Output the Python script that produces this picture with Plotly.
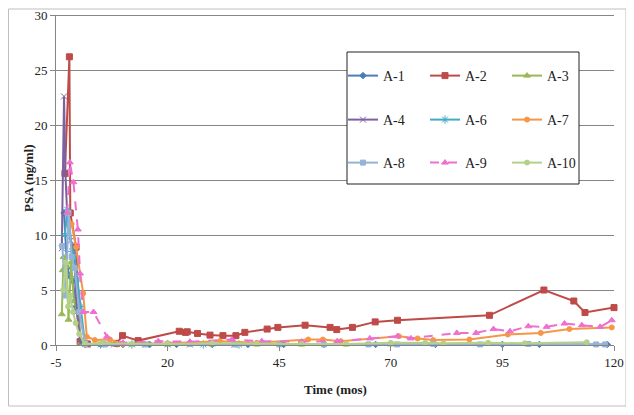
import plotly.graph_objects as go

# ---- data (time in months, PSA in ng/ml) ----
a1_x = [-3.2, -2.5, -1.8, -1.2, -0.5, 0.5, 1.5, 5, 10, 16, 22, 30, 38, 46, 55, 66.6, 80, 95, 103.3, 118.5]
a1_y = [12.0, 7.0, 6.2, 5.8, 3.5, 0.5, 0.1, 0.05, 0.05, 0.05, 0.05, 0.05, 0.05, 0.05, 0.05, 0.05, 0.05, 0.05, 0.05, 0.05]

a2_x = [-3.0, -2.0, -1.8, -0.5, 0.4, 2.0, 8.6, 9.9, 13.4, 22.6, 24.0, 24.4, 26.7, 29.5, 32.4, 35.3, 37.3,
        42.3, 44.7, 50.8, 56.4, 57.9, 61.4, 66.5, 71.5, 92.1, 104.3, 111.0, 113.5, 120.0]
a2_y = [15.6, 26.2, 12.0, 8.9, 0.3, 0.1, 0.15, 0.85, 0.4, 1.25, 1.15, 1.2, 1.05, 0.9, 0.85, 0.85, 1.15,
        1.45, 1.6, 1.8, 1.6, 1.4, 1.6, 2.1, 2.25, 2.7, 5.0, 4.0, 2.95, 3.4]

a3_x = [-3.7, -3.5, -3.3, -2.6, -2.2, -1.6, -1.0, -0.2, 0.6, 2, 6, 12, 20, 30, 40, 50, 60, 70]
a3_y = [2.8, 6.8, 8.0, 7.2, 2.3, 7.5, 4.0, 3.0, 0.2, 0.1, 0.05, 0.05, 0.05, 0.05, 0.05, 0.05, 0.05, 0.05]

a4_x = [-3.7, -3.2, -2.9, -2.4, -1.7, -1.0, -0.3, 0.5, 2, 8, 15, 25, 35]
a4_y = [8.8, 22.6, 15.7, 11.0, 9.5, 8.5, 3.0, 0.2, 0.05, 0.05, 0.05, 0.05, 0.05]

a6_x = [-3.0, -2.5, -2.0, -1.4, -0.8, -0.2, 0.6, 1.5, 5, 12, 20, 28, 36]
a6_y = [10.0, 12.3, 11.0, 8.5, 8.0, 6.0, 3.5, 0.1, 0.05, 0.05, 0.05, 0.05, 0.05]

a7_x = [-1.5, -0.5, 1.1, 1.9, 3.7, 7.1, 10, 20, 31.7, 40, 51.5, 54.8, 58.8, 71.8, 76, 79.5, 87.6, 96.2, 103.6, 110, 119.5]
a7_y = [11.0, 8.9, 4.7, 0.75, 0.45, 0.5, 0.1, 0.15, 0.35, 0.2, 0.5, 0.5, 0.35, 0.8, 0.6, 0.45, 0.5, 0.95, 1.1, 1.45, 1.6]

a8_x = [-3.6, -2.8, -2.2, -1.5, -0.8, 0.2, 1.5, 6, 15, 25, 35, 45, 55, 65, 71.4, 79.5, 90, 100.8, 116, 118]
a8_y = [9.0, 4.5, 12.0, 8.0, 7.0, 3.0, 0.1, 0.05, 0.05, 0.1, 0.05, 0.05, 0.05, 0.05, 0.05, 0.1, 0.05, 0.1, 0.05, 0.05]

a9_x = [-2.5, -1.9, -1.1, -0.1, 0.4, 1.1, 3.4, 6.4, 10, 17.9, 25, 34.4, 41.1, 50, 58, 65.3, 71.5, 74.5,
        84.8, 89.1, 93, 96.7, 100.8, 104.9, 108.9, 112.8, 116.9, 119.5]
a9_y = [12.0, 16.6, 14.8, 10.5, 6.5, 3.0, 3.0, 0.75, 0.2, 0.35, 0.3, 0.5, 0.35, 0.3, 0.35, 0.6, 0.8, 0.6,
        1.1, 1.1, 1.45, 1.25, 1.7, 1.65, 1.95, 1.8, 1.65, 2.25]

a10_x = [-3.4, -2.8, -2.3, -1.8, -1.2, -0.6, 0.2, 1.5, 5, 12, 20, 30, 40, 50, 60, 70, 77.7, 81.8, 91.8, 100, 113.9]
a10_y = [5.0, 7.5, 3.5, 4.5, 3.0, 2.0, 1.0, 0.1, 0.15, 0.1, 0.1, 0.15, 0.1, 0.1, 0.1, 0.2, 0.2, 0.15, 0.2, 0.15, 0.25]

x_ticks = [-5, 20, 45, 70, 95, 120]
y_ticks = [0, 5, 10, 15, 20, 25, 30]

series = [
    ("A-1", a1_x, a1_y, "#4A7EBB", "diamond", 5, "solid", "legend"),
    ("A-2", a2_x, a2_y, "#BE4B48", "square", 6, "solid", "legend"),
    ("A-3", a3_x, a3_y, "#98B954", "triangle-up", 6, "solid", "legend"),
    ("A-4", a4_x, a4_y, "#7D60A0", "x-thin-open", 6, "solid", "legend2"),
    ("A-6", a6_x, a6_y, "#46AAC5", "asterisk-open", 7, "solid", "legend2"),
    ("A-7", a7_x, a7_y, "#F79646", "circle", 5, "solid", "legend2"),
    ("A-8", a8_x, a8_y, "#95B3D7", "square", 5, "solid", "legend3"),
    ("A-9", a9_x, a9_y, "#EE6FD0", "triangle-up", 6, "dash", "legend3"),
    ("A-10", a10_x, a10_y, "#B3D18A", "circle", 5, "solid", "legend3"),
]

FONT = "Liberation Serif, Times New Roman, serif"

fig = go.Figure()
for name, xs, ys, col, sym, sz, dash, lg in series:
    fig.add_trace(go.Scatter(
        x=xs, y=ys, name=name, mode="lines+markers", legend=lg,
        line=dict(color=col, width=2, dash=dash),
        marker=dict(color=col, symbol=sym, size=sz, line=dict(color=col, width=1)),
        cliponaxis=False,
    ))

# page has an 8px body margin; lay out in page pixels and convert
OFF = 8
W, H = 634 - OFF, 415 - OFF
PL, PR, PT, PB = 56, 614, 15, 345   # plot area in page pixels
L, R, T, B = PL - OFF, W - (PR - OFF), PT - OFF, H - (PB - OFF)
pw, ph = W - L - R, H - T - B

def px(xp):
    return (xp - OFF - L) / pw

def py(yp):
    return (H - B - (yp - OFF)) / ph

legend_common = dict(
    orientation="h", entrywidth=37, entrywidthmode="pixels",
    font=dict(family=FONT, size=14, color="#222"),
    bgcolor="rgba(0,0,0,0)", borderwidth=0,
    xanchor="left", yanchor="middle", itemwidth=30,
    traceorder="normal",
)

fig.update_layout(
    width=W, height=H,
    margin=dict(l=L, r=R, t=T, b=B, autoexpand=False),
    paper_bgcolor="white", plot_bgcolor="white",
    font=dict(family=FONT, size=13, color="#222"),
    showlegend=True,
    legend=dict(x=px(343), y=py(76), **legend_common),
    legend2=dict(x=px(343), y=py(120), **legend_common),
    legend3=dict(x=px(343), y=py(163), **legend_common),
    xaxis=dict(
        range=[-5, 120.001], tickvals=x_ticks, ticktext=[str(v) for v in x_ticks],
        showgrid=False, zeroline=False, showline=True, linecolor="#868686", linewidth=1,
        ticks="outside", ticklen=5, tickcolor="#868686", ticklabeloverflow="allow",
        tickfont=dict(family=FONT, size=13, color="#222"),
    ),
    yaxis=dict(
        range=[0, 30.001], tickvals=y_ticks, ticktext=[str(v) for v in y_ticks],
        showgrid=True, gridcolor="#868686", gridwidth=1, zeroline=False,
        showline=True, linecolor="#868686", linewidth=1,
        ticks="outside", ticklen=5, tickcolor="#868686", ticklabeloverflow="allow",
        tickfont=dict(family=FONT, size=13, color="#222"),
    ),
    shapes=[
        # outer chart frame
        dict(type="rect", xref="paper", yref="paper",
             x0=px(8.5), x1=px(626), y0=py(406), y1=py(9),
             line=dict(color="#BFBFBF", width=1), fillcolor="rgba(0,0,0,0)", layer="below"),
        # top gridline at the range end (paper-referenced so it is not clipped)
        dict(type="line", xref="paper", yref="paper", x0=0, x1=1, y0=py(15.5), y1=py(15.5),
             line=dict(color="#868686", width=1), layer="above"),
        # legend box
        dict(type="rect", xref="paper", yref="paper",
             x0=px(347), x1=px(579), y0=py(184), y1=py(52),
             line=dict(color="#222", width=1), fillcolor="white", layer="above"),
    ],
    annotations=[
        dict(text="<b>Time (mos)</b>", xref="paper", yref="paper", x=px(335), y=py(390),
             showarrow=False, xanchor="center", yanchor="middle",
             font=dict(family=FONT, size=13, color="#222")),
        dict(text="<b>PSA (ng/ml)</b>", xref="paper", yref="paper", x=px(28), y=py(178),
             showarrow=False, xanchor="center", yanchor="middle", textangle=-90,
             font=dict(family=FONT, size=13, color="#222")),
    ],
)

fig.write_html("out.html")
